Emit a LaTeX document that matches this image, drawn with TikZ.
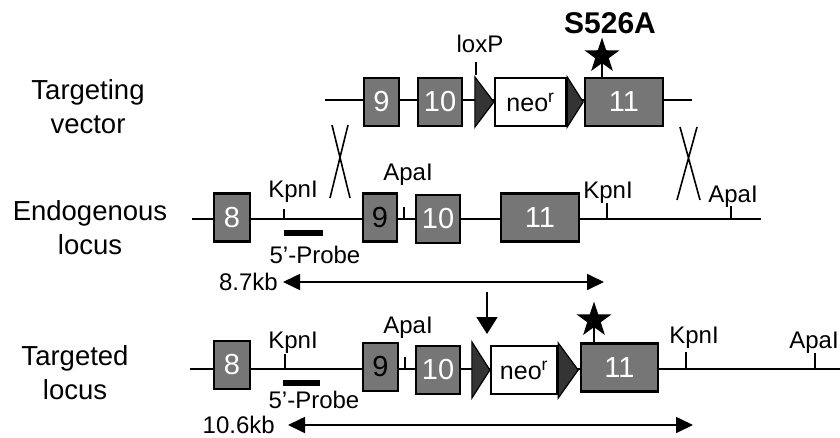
\documentclass[tikz,border=0pt]{standalone}
\usepackage{fontspec}
\setmainfont{Liberation Sans}
\usetikzlibrary{positioning,shapes.geometric,arrows.meta}

\definecolor{exongray}{RGB}{118,118,118}
\definecolor{loxgray}{RGB}{52,52,52}

\begin{document}
\begin{tikzpicture}[
    x=1pt, y=-1pt,
    exon/.style={rectangle, draw, line width=2.3pt, fill=exongray, text=white,
                 inner sep=0pt, minimum height=48pt, font=\fontsize{29}{32}\selectfont},
    neobox/.style={rectangle, draw, line width=2.3pt, fill=white, inner sep=0pt,
                   minimum height=48pt, font=\fontsize{25}{28}\selectfont},
    lox/.style={draw, line width=1.2pt, fill=loxgray, line join=miter},
    dna/.style={line width=1.6pt},
    cutsite/.style={line width=1.5pt},
    lbl/.style={font=\fontsize{24}{26}\selectfont, inner sep=0pt},
    rowlabel/.style={font=\fontsize{27.5}{34}\selectfont, align=center, inner sep=0pt},
    probebar/.style={rectangle, fill=black, inner sep=0pt, minimum height=6pt},
    mut/.style={star, star points=5, star point ratio=2.6, fill=black,
                inner sep=0pt, minimum size=37pt},
    sizearrow/.style={<->, line width=1.7pt, >={Triangle[length=17pt, width=16pt]}},
    xover/.style={line width=1.6pt}
]
\useasboundingbox (0,0) rectangle (840,437);

%% ── Row labels ──────────────────────────────────────────────────
\node[rowlabel] (vlbl) at (88,107)  {Targeting\\vector};
\node[rowlabel] (elbl) at (90,228)  {Endogenous\\locus};
\node[rowlabel] (tlbl) at (75,373)  {Targeted\\locus};

%% ── Targeting vector ────────────────────────────────────────────
\coordinate (vL) at (325,100);
\coordinate (vR) at (692,100);
\draw[dna] (vL) -- (vR);

\node[exon, minimum width=35pt] (v9)   at (381.5,102) {9};
\node[exon, minimum width=44pt] (v10)  at (440,102)   {10};
\node[neobox, minimum width=71pt] (vneo) at (530.5,102) {neo\textsuperscript{r}};
\node[exon, minimum width=78pt] (v11)  at (624,102)   {11};

\filldraw[lox] (vneo.west) -- ([xshift=-19pt]vneo.north west)
               -- ([xshift=-19pt]vneo.south west) -- cycle;
\filldraw[lox] (vneo.north east) -- ([xshift=16pt]vneo.east)
               -- (vneo.south east) -- cycle;

\coordinate (vlox) at (476,75);
\draw[cutsite] (vlox) -- ++(0,-13) coordinate (vloxtop);
\node[lbl, anchor=base] (vloxlbl) at (480,52) {loxP};

\node[mut] (vstar) at (602,56) {};
\draw[cutsite] (vstar.center) -- (vstar.center |- v11.north);
\node[lbl, font=\bfseries\fontsize{30}{32}\selectfont, anchor=base]
    (vmutlbl) at (610,33) {S526A};

%% ── Crossovers ──────────────────────────────────────────────────
\coordinate (xla) at (332,125); \coordinate (xlb) at (350,198);
\coordinate (xlc) at (348,125); \coordinate (xld) at (330,198);
\coordinate (xra) at (680,127); \coordinate (xrb) at (700,200);
\coordinate (xrc) at (697,127); \coordinate (xrd) at (677,200);
\draw[xover] (xla) -- (xlb) (xlc) -- (xld);
\draw[xover] (xra) -- (xrb) (xrc) -- (xrd);

%% ── Endogenous locus ────────────────────────────────────────────
\coordinate (eL) at (192,219);
\coordinate (eR) at (761,219);
\draw[dna] (eL) -- (eR);

\node[exon, minimum width=36pt] (e8)  at (232,217.5) {8};
\node[exon, minimum width=34pt, text=black] (e9) at (380,217.5) {9};
\node[exon, minimum width=44pt] (e10) at (438,219)   {10};
\node[exon, minimum width=78pt] (e11) at (540,217.5) {11};

\coordinate (ekpn1) at (284,219);
\draw[cutsite] (ekpn1) -- ++(0,-10);
\node[lbl, anchor=base] (ekpn1lbl) at (293,197) {KpnI};

\coordinate (eapa1) at (404,219);
\draw[cutsite] (eapa1) -- ++(0,-12);
\node[lbl, anchor=base] (eapa1lbl) at (408,180) {ApaI};

\coordinate (ekpn2) at (607,219);
\draw[cutsite] (ekpn2) -- ++(0,-16);
\node[lbl, anchor=base] (ekpn2lbl) at (608,198) {KpnI};

\coordinate (eapa2) at (731,219);
\draw[cutsite] (eapa2) -- ++(0,-13);
\node[lbl, anchor=base] (eapa2lbl) at (733,202) {ApaI};

\node[probebar, minimum width=39pt] (eprobe) at (303.5,233) {};
\node[lbl, anchor=base] (eprobelbl) at (315,263) {5'-Probe};

\coordinate (ekbL) at (283,282);
\coordinate (ekbR) at (604,282);
\draw[sizearrow] (ekbL) -- (ekbR);
\node[lbl, left=5pt of ekbL] (ekblbl) {8.7kb};

%% ── Cre excision arrow ──────────────────────────────────────────
\coordinate (dnA) at (487,292);
\coordinate (dnB) at (487,334);
\draw[->, line width=1.7pt, >={Triangle[length=17pt, width=21pt]}] (dnA) -- (dnB);

%% ── Targeted locus ──────────────────────────────────────────────
\coordinate (tL) at (190,369);
\coordinate (tR) at (845,369);
\draw[dna] (tL) -- (tR);

\node[exon, minimum width=36pt] (t8)  at (232,365)   {8};
\node[exon, minimum width=35pt, text=black] (t9) at (380.5,367) {9};
\node[exon, minimum width=44pt] (t10) at (438,370)   {10};
\node[neobox, minimum width=66pt] (tneo) at (524,370) {neo\textsuperscript{r}};
\node[exon, minimum width=77pt] (t11) at (619.5,367.5) {11};

\filldraw[lox] (tneo.west) -- ([xshift=-18pt,yshift=3pt]tneo.north west)
               -- ([xshift=-18pt,yshift=-3pt]tneo.south west) -- cycle;
\filldraw[lox] ([yshift=2pt]tneo.north east) -- ([xshift=20pt]tneo.east)
               -- ([yshift=-3pt]tneo.south east) -- cycle;

\node[mut] (tstar) at (594,320) {};
\draw[cutsite] (tstar.center) -- (tstar.center |- t11.north);

\coordinate (tkpn1) at (285,369);
\draw[cutsite] (tkpn1) -- ++(0,-15);
\node[lbl, anchor=base] (tkpn1lbl) at (293,348) {KpnI};

\coordinate (tapa1) at (405,369);
\draw[cutsite] (tapa1) -- ++(0,-12);
\node[lbl, anchor=base] (tapa1lbl) at (408,333) {ApaI};

\coordinate (tkpn2) at (686,369);
\draw[cutsite] (tkpn2) -- ++(0,-17);
\node[lbl, anchor=base] (tkpn2lbl) at (694,343) {KpnI};

\coordinate (tapa2) at (815,369);
\draw[cutsite] (tapa2) -- ++(0,-16);
\node[lbl, anchor=base] (tapa2lbl) at (814,348) {ApaI};

\node[probebar, minimum width=37pt] (tprobe) at (301.5,383) {};
\node[lbl, anchor=base] (tprobelbl) at (314,408) {5'-Probe};

\coordinate (tkbL) at (288,425);
\coordinate (tkbR) at (693,425);
\draw[sizearrow] (tkbL) -- (tkbR);
\node[lbl, left=13pt of tkbL] (tkblbl) {10.6kb};

\end{tikzpicture}
\end{document}
